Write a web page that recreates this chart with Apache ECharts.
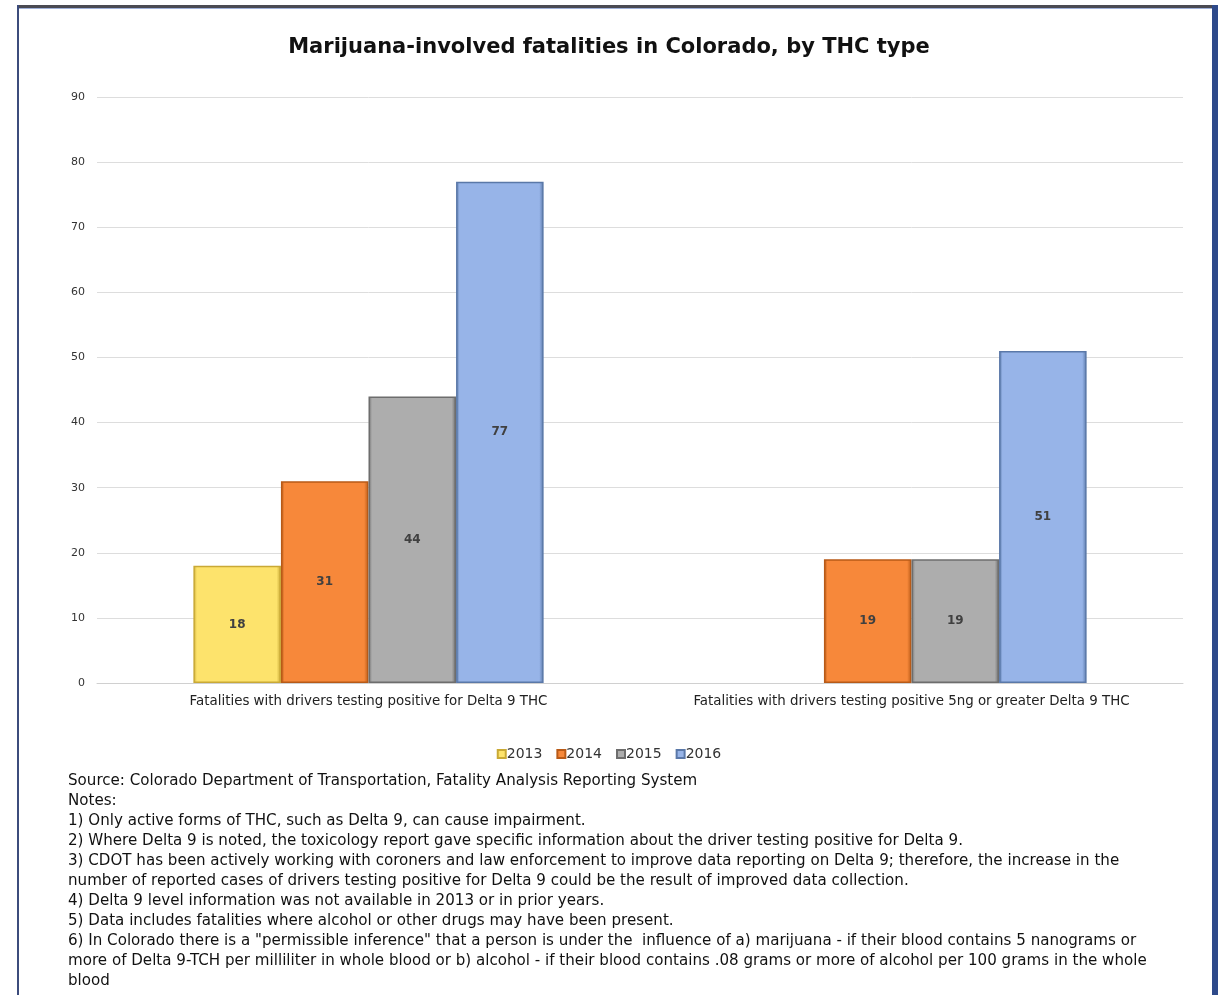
<!DOCTYPE html>
<html>
<head>
<meta charset="utf-8">
<script src="https://cdn.jsdelivr.net/npm/echarts@6/dist/echarts.min.js"></script>
<style>
  html, body { margin: 0; padding: 0; background: #ffffff; }
  #chart { width: 1218px; height: 995px; }
</style>
</head>
<body>
<div id="chart"></div>
<script>
// Chart data
const categories = [
  'Fatalities with drivers testing positive for Delta 9 THC',
  'Fatalities with drivers testing positive 5ng or greater Delta 9 THC'
];
const years = ['2013', '2014', '2015', '2016'];
const values2013 = [18, null];
const values2014 = [31, 19];
const values2015 = [44, 19];
const values2016 = [77, 51];
const yTicks = [0, 10, 20, 30, 40, 50, 60, 70, 80, 90];

const notes = [
  'Source: Colorado Department of Transportation, Fatality Analysis Reporting System',
  'Notes:',
  '1) Only active forms of THC, such as Delta 9, can cause impairment.',
  '2) Where Delta 9 is noted, the toxicology report gave specific information about the driver testing positive for Delta 9.',
  '3) CDOT has been actively working with coroners and law enforcement to improve data reporting on Delta 9; therefore, the increase in the',
  'number of reported cases of drivers testing positive for Delta 9 could be the result of improved data collection.',
  '4) Delta 9 level information was not available in 2013 or in prior years.',
  '5) Data includes fatalities where alcohol or other drugs may have been present.',
  '6) In Colorado there is a "permissible inference" that a person is under the  influence of a) marijuana - if their blood contains 5 nanograms or',
  'more of Delta 9-TCH per milliliter in whole blood or b) alcohol - if their blood contains .08 grams or more of alcohol per 100 grams in the whole',
  'blood'
];

const FONT = 'DejaVu Sans, Verdana, sans-serif';

const palette = [
  { fill: '#fde36c', edge: '#c9a935' },
  { fill: '#f7883a', edge: '#b85a17' },
  { fill: '#adadad', edge: '#6d6d6d' },
  { fill: '#97b4e8', edge: '#5a78a8' }
];
const seriesValues = [values2013, values2014, values2015, values2016];

// Horizontal gradient gives the bars a slight bevelled edge
function bevel(c) {
  return {
    type: 'linear', x: 0, y: 0, x2: 1, y2: 0,
    colorStops: [
      { offset: 0, color: c.edge },
      { offset: 0.04, color: c.fill },
      { offset: 0.95, color: c.fill },
      { offset: 1, color: c.edge }
    ]
  };
}

const series = years.map((y, i) => ({
  name: y,
  type: 'bar',
  data: seriesValues[i],
  barGap: '0%',
  barCategoryGap: '35.5%',
  itemStyle: {
    color: bevel(palette[i]),
    borderColor: palette[i].edge,
    borderWidth: 1.5
  },
  label: {
    show: true,
    position: 'inside',
    color: '#404040',
    fontFamily: FONT,
    fontWeight: 'bold',
    fontSize: 12
  }
}));

const chart = echarts.init(document.getElementById('chart'), null, { renderer: 'canvas' });
chart.setOption({
  backgroundColor: '#ffffff',
  animation: false,
  color: palette.map(p => p.fill),
  title: {
    text: 'Marijuana-involved fatalities in Colorado, by THC type',
    left: 'center',
    top: 32,
    textStyle: { fontFamily: FONT, fontWeight: 'bold', fontSize: 21, color: '#111111' }
  },
  legend: {
    bottom: 229,
    left: 'center',
    itemWidth: 8,
    itemHeight: 8,
    itemGap: 14,
    icon: 'rect',
    textStyle: { fontFamily: FONT, fontSize: 14, color: '#333333', padding: [0, 0, 0, -4] },
    data: years
  },
  grid: { left: 97, right: 35, top: 97, bottom: 312 },
  xAxis: {
    type: 'category',
    data: categories,
    axisTick: { show: false },
    axisLine: { lineStyle: { color: '#d0d0d0' } },
    axisLabel: { interval: 0, hideOverlap: false, fontFamily: FONT, fontSize: 13.4, color: '#222222', margin: 12 }
  },
  yAxis: {
    type: 'value',
    min: yTicks[0],
    max: yTicks[yTicks.length - 1],
    interval: 10,
    axisLabel: { fontFamily: FONT, fontSize: 11, color: '#333333', margin: 12 },
    splitLine: { lineStyle: { color: '#dddddd' } },
    axisLine: { show: false },
    axisTick: { show: false }
  },
  series: series,
  graphic: [
    { type: 'rect', shape: { x: 17, y: 5, width: 1201, height: 3 }, style: { fill: '#4a4a52' } },
    { type: 'rect', shape: { x: 17, y: 8, width: 1201, height: 1 }, style: { fill: '#9fb0d8' } },
    { type: 'rect', shape: { x: 17, y: 5, width: 2, height: 990 }, style: { fill: '#3c4c7c' } },
    { type: 'rect', shape: { x: 1212, y: 5, width: 6, height: 990 }, style: { fill: '#2e4a8a' } },
    {
      type: 'text',
      left: 68,
      top: 771,
      style: {
        text: notes.join('\n'),
        fontFamily: FONT,
        fontSize: 15.1,
        lineHeight: 20,
        fill: '#111111'
      }
    }
  ]
});
</script>
</body>
</html>
